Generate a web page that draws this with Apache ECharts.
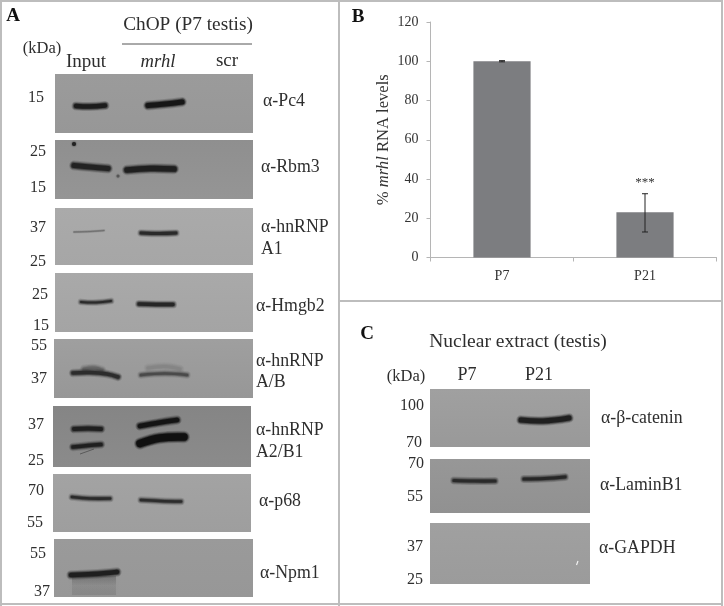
<!DOCTYPE html>
<html><head><meta charset="utf-8">
<style>html,body{margin:0;padding:0;background:#fff}#c{width:724px;height:606px}</style>
<script src="https://cdn.jsdelivr.net/npm/echarts@6/dist/echarts.min.js"></script>
</head><body><div id="c"></div>
<script>
// Chart data (panel B)
const categories = ['P7', 'P21'];
const rnaLevels = [100, 23];
const errLow = [99.7, 13];
const errHigh = [100.3, 32.5];
const significance = ['', '***'];
const yTicks = [0, 20, 40, 60, 80, 100, 120];

const serif = '"Liberation Serif","Times New Roman",serif';
const chart = echarts.init(document.getElementById('c'), null, {renderer: 'canvas'});
const g = [];

function text(t, x, y, size, opt) {
  opt = opt || {};
  g.push({type: 'text', z: 20, x: x, y: y, style: {
    text: t, font: (opt.style || '') + ' ' + (opt.weight || '') + ' ' + size + 'px ' + serif,
    fill: opt.color || '#2e2e2e', align: opt.align || 'center', verticalAlign: 'middle'}});
}
function blot(x1, y1, x2, y2, top, bottom) {
  g.push({type: 'rect', z: 5, shape: {x: x1, y: y1, width: x2 - x1, height: y2 - y1},
    style: {fill: new echarts.graphic.LinearGradient(0, 0, 0, 1, [{offset: 0, color: top}, {offset: 1, color: bottom}])}});
}
function band(pts, w, color, blur) {
  const spread = blur === undefined ? 1.4 : blur;
  [[3.4 * spread, 0.16], [2.2 * spread, 0.26], [1.1 * spread, 0.45], [0, 1]].forEach(function (l) {
    g.push({type: 'polyline', z: 10, shape: {points: pts, smooth: 0.4},
      style: {stroke: color, fill: null, lineWidth: w + l[0], lineCap: 'round', lineJoin: 'round', opacity: l[1]}});
  });
}
function spot(x, y, r, color) {
  g.push({type: 'circle', z: 10, shape: {cx: x, cy: y, r: r},
    style: {fill: color, shadowBlur: 2, shadowColor: color}});
}
function line(x1, y1, x2, y2, color, w) {
  g.push({type: 'line', z: 15, shape: {x1: x1, y1: y1, x2: x2, y2: y2}, style: {stroke: color, lineWidth: w}});
}

// Frame
const frame = '#bdbdbd';
line(1, 1, 723, 1, frame, 2);
line(1, 604, 723, 604, frame, 2);
line(1, 0, 1, 606, frame, 2);
line(722, 0, 722, 606, frame, 2);
line(339, 0, 339, 606, frame, 2);
line(339, 301, 723, 301, frame, 2);

// Panel A blots
blot(55, 74, 253, 133, '#9b9b9b', '#979797');
blot(55, 140, 253, 199, '#8f8f8f', '#959595');
blot(55, 208, 253, 265, '#aaaaaa', '#a6a6a6');
blot(55, 273, 253, 332, '#a9a9a9', '#a4a4a4');
blot(54, 339, 253, 398, '#9f9f9f', '#979797');
blot(53, 406, 251, 467, '#858585', '#8b8b8b');
blot(53, 474, 251, 532, '#a3a3a3', '#9e9e9e');
blot(54, 539, 253, 597, '#9a9a9a', '#979797');
// Panel C blots
blot(430, 389, 590, 447, '#a0a0a0', '#999999');
blot(430, 459, 590, 513, '#979797', '#919191');
blot(430, 523, 590, 584, '#a0a0a0', '#9b9b9b');

// Panel A bands
band([[76, 106], [90, 106.5], [105, 105.5]], 4.4, '#1c1c1c');
band([[148, 105.5], [165, 104], [182, 102]], 5.2, '#161616');
band([[74, 165.5], [90, 167], [108, 168.5]], 5.2, '#222222');
band([[127, 170], [150, 168.5], [174, 169]], 5.6, '#1f1f1f');
spot(74, 144, 2, '#222222');
spot(118, 176, 1.5, '#555555');
band([[74, 232], [90, 231.5], [104, 230.5]], 0.8, '#6c6c6c', 0.6);
band([[141, 233], [160, 233.5], [176, 233]], 2.8, '#2a2a2a');
band([[81, 302], [96, 302.5], [111, 301]], 2, '#2a2a2a');
band([[139, 304], [156, 304.5], [173, 304.5]], 3.4, '#262626');
band([[148, 368], [165, 366.5], [180, 369]], 3, '#858585', 1.6);
band([[84, 369], [94, 368], [102, 370]], 3, '#666666', 1.6);
band([[73, 373], [90, 372.5], [107, 374], [118, 377]], 3.6, '#2c2c2c');
band([[141, 375], [165, 373.5], [187, 375]], 2.6, '#4a4a4a');
band([[74, 429], [88, 428.5], [101, 429]], 4, '#1f1f1f');
band([[73, 447], [88, 445.5], [101, 444.5]], 3.6, '#1f1f1f');
band([[140, 426], [160, 422.5], [177, 420]], 4.6, '#141414');
band([[140, 443.5], [160, 438], [184, 437]], 7.5, '#101010');
line(80, 454, 94, 449, '#5a5a5a', 1);
band([[72, 497], [90, 498.5], [110, 498.5]], 2.6, '#2a2a2a');
band([[141, 500], [160, 501], [181, 501.5]], 2.6, '#2c2c2c');
g.push({type: 'rect', z: 8, shape: {x: 72, y: 576, width: 44, height: 19},
  style: {fill: new echarts.graphic.LinearGradient(0, 0, 0, 1, [
    {offset: 0, color: 'rgba(50,50,50,0.3)'}, {offset: 0.5, color: 'rgba(50,50,50,0.1)'}, {offset: 1, color: 'rgba(50,50,50,0.14)'}]),
    shadowBlur: 6, shadowColor: 'rgba(50,50,50,0.2)'}});
band([[71, 575], [93, 574], [117, 572]], 4.6, '#1f1f1f');

// Panel C bands
band([[521, 420], [543, 421], [569, 418]], 5, '#1f1f1f');
band([[454, 480.5], [475, 481], [495, 481]], 3.2, '#2a2a2a');
band([[524, 479], [545, 478.5], [565, 477]], 3.2, '#262626');
line(576.5, 565, 578, 561, '#f4f4f4', 1.2);

// Panel A text
line(122, 44, 252, 44, '#555555', 1);
text('A', 13, 16, 19, {weight: 'bold', color: '#111'});
text('ChOP (P7 testis)', 188, 25, 19.3);
text('(kDa)', 42, 49, 16.5);
text('Input', 86, 62, 19);
text('mrhl', 158, 62, 18.6, {style: 'italic'});
text('scr', 227, 61, 19);
[['15', 36, 98], ['25', 38, 152], ['15', 38, 188], ['37', 38, 228], ['25', 38, 262],
 ['25', 40, 295], ['15', 41, 326], ['55', 39, 346], ['37', 39, 379], ['37', 36, 425],
 ['25', 36, 461], ['70', 36, 491], ['55', 35, 523], ['55', 38, 554], ['37', 42, 592]
].forEach(a => text(a[0], a[1], a[2], 16));
[['\u03b1-Pc4', 263, 101], ['\u03b1-Rbm3', 261, 167], ['\u03b1-hnRNP', 261, 227], ['A1', 261, 249],
 ['\u03b1-Hmgb2', 256, 306], ['\u03b1-hnRNP', 256, 361], ['A/B', 256, 382], ['\u03b1-hnRNP', 256, 430],
 ['A2/B1', 256, 452], ['\u03b1-p68', 259, 501], ['\u03b1-Npm1', 260, 573]
].forEach(a => text(a[0], a[1], a[2], 17.8, {align: 'left'}));

// Panel B / C text
text('B', 358, 17, 19, {weight: 'bold', color: '#111'});
text('C', 367, 334, 19, {weight: 'bold', color: '#111'});
text('Nuclear extract (testis)', 518, 342, 19.5);
text('(kDa)', 406, 377, 16.5);
text('P7', 467, 375, 18);
text('P21', 539, 375, 18);
[['100', 412, 406], ['70', 414, 443], ['70', 416, 464], ['55', 415, 497], ['37', 415, 547], ['25', 415, 580]
].forEach(a => text(a[0], a[1], a[2], 16));
[['\u03b1-\u03b2-catenin', 601, 418], ['\u03b1-LaminB1', 600, 485], ['\u03b1-GAPDH', 599, 548]
].forEach(a => text(a[0], a[1], a[2], 17.8, {align: 'left'}));

chart.setOption({
  animation: false,
  backgroundColor: '#fff',
  graphic: {elements: g},
  grid: {left: 430.5, right: 7.5, top: 22, bottom: 348.5, containLabel: false},
  xAxis: {
    type: 'category', data: categories,
    axisLine: {lineStyle: {color: '#b5b5b5', width: 1}},
    axisTick: {show: true, alignWithLabel: false, length: 4, lineStyle: {color: '#b5b5b5'}},
    axisLabel: {fontFamily: serif, fontSize: 14, color: '#333', margin: 12}
  },
  yAxis: {
    type: 'value', min: yTicks[0], max: yTicks[yTicks.length - 1], interval: yTicks[1] - yTicks[0],
    name: '{a|% }{b|mrhl}{a| RNA levels}', nameLocation: 'middle', nameGap: 38, nameRotate: 90,
    nameTextStyle: {rich: {a: {fontFamily: serif, fontSize: 16.6, color: '#333'},
      b: {fontFamily: serif, fontSize: 16.6, fontStyle: 'italic', color: '#333'}}},
    axisLine: {show: true, lineStyle: {color: '#b5b5b5', width: 1}},
    axisTick: {show: true, length: 4, lineStyle: {color: '#b5b5b5'}},
    axisLabel: {fontFamily: serif, fontSize: 14, color: '#333', margin: 12},
    splitLine: {show: false}
  },
  series: [
    {type: 'bar', data: rnaLevels, barWidth: '40%', itemStyle: {color: '#7c7d80'}, silent: true},
    {type: 'custom', silent: true, z: 6,
     data: categories.map((c, i) => [i, errLow[i], errHigh[i], significance[i]]),
     encode: {x: 0, y: [1, 2]},
     renderItem: function (params, api) {
       const x = api.coord([api.value(0), 0])[0];
       const lo = api.coord([api.value(0), api.value(1)])[1];
       const hi = api.coord([api.value(0), api.value(2)])[1];
       const st = {stroke: '#222', lineWidth: 1};
       const kids = [
         {type: 'line', shape: {x1: x, y1: lo, x2: x, y2: hi}, style: st},
         {type: 'line', shape: {x1: x - 3, y1: lo, x2: x + 3, y2: lo}, style: st},
         {type: 'line', shape: {x1: x - 3, y1: hi, x2: x + 3, y2: hi}, style: st}
       ];
       const s = significance[params.dataIndex];
       if (s) kids.push({type: 'text', style: {text: s, x: x, y: hi - 11, align: 'center',
         verticalAlign: 'middle', fill: '#333', font: '13px ' + serif}});
       return {type: 'group', children: kids};
     }}
  ]
});
</script></body></html>
